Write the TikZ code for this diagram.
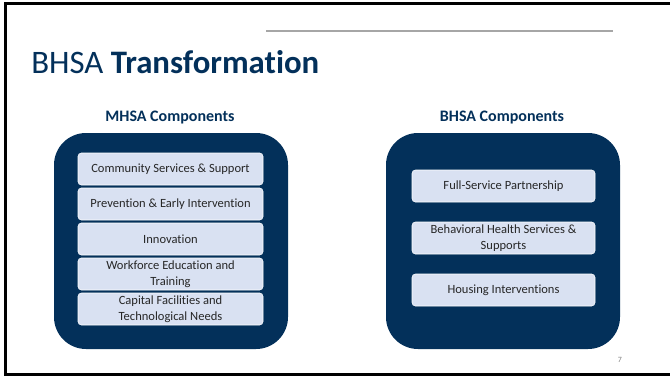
\documentclass[tikz,border=0pt]{standalone}
\usepackage{fontspec}
\setmainfont{Carlito}[Ligatures=NoCommon]
\definecolor{navy}{HTML}{03305A}
\definecolor{lightbox}{HTML}{D9E1F2}
\definecolor{txt}{HTML}{262626}
\begin{document}
\begin{tikzpicture}[x=0.75pt,y=-0.75pt,
  outerbox/.style={fill=navy,draw=none,rounded corners=24pt},
  innerbox/.style={fill=lightbox,draw=white,line width=0.4pt,rounded corners=2.5pt},
  boxtext/.style={text=txt,font=\fontsize{9.4}{12}\selectfont,align=center,inner sep=0pt},
  header/.style={text=navy,font=\fontsize{12}{14}\selectfont\bfseries,anchor=base}]
\useasboundingbox (0,0) rectangle (670,378);
\draw[line width=2pt] (670,3.8) -- (5.3,3.8) -- (5.3,374.6) -- (670,374.6);
\draw[gray!70,line width=0.9pt] (266,31) -- (613,31);
\node[anchor=base west,text=navy,inner sep=0pt,font=\fontsize{24.6}{28}\selectfont] (title) at (31,74) {BHSA \textbf{Transformation}};
\node[header] (mh) at (170,121) {MHSA Components};
\node[header] (bh) at (502,121) {BHSA Components};
\path[outerbox] (54,133) rectangle (288,349);
\path[outerbox] (386,133) rectangle (620,349);
\foreach \n/\ya/\yb/\t in {a/153/185/{Community Services \& Support},
  b/188/220/{Prevention \& Early Intervention},
  c/223/255/{Innovation},
  d/258/290/{Workforce Education and\\Training},
  e/293/325/{Capital Facilities and\\Technological Needs}}{
  \path[innerbox] (78,\ya) rectangle (263,\yb);
  \node[boxtext] (l\n) at (170.5,{(\ya+\yb)/2}) {\t};
}
\foreach \n/\ya/\yb/\t in {a/170/202/{Full-Service Partnership},
  b/222/254/{Behavioral Health Services \&\\Supports},
  c/274/306/{Housing Interventions}}{
  \path[innerbox] (412,\ya) rectangle (595,\yb);
  \node[boxtext] (r\n) at (503.5,{(\ya+\yb)/2}) {\t};
}
\node[text=gray,font=\fontsize{6}{7}\selectfont] (pg) at (620,360) {7};
\end{tikzpicture}
\end{document}
